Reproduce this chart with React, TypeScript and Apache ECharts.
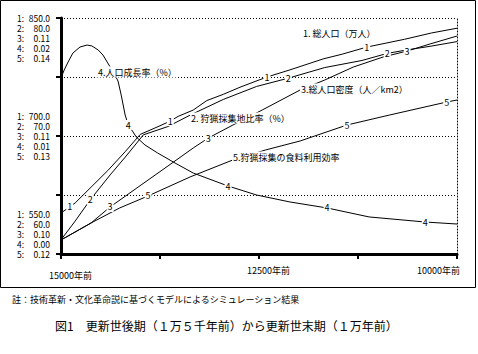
import React, { useEffect, useRef } from 'react';
import * as echarts from 'echarts';

const FONT = '"Noto Sans CJK JP", "Noto Sans", sans-serif';

// x axis (years before present)
const xTickValues = [15000, 12500, 10000];
const xTickLabels = ['15000年前', '12500年前', '10000年前'];

// left scale labels (bottom, middle, top) for series 1..5
const yTickValues = [550, 700, 850];
const yTickLabels = [
  ['550.0', '700.0', '850.0'],
  ['60.0', '70.0', '80.0'],
  ['0.10', '0.11', '0.11'],
  ['0.00', '0.01', '0.02'],
  ['0.12', '0.13', '0.14'],
];
const yRanges: [number, number][] = [
  [550, 850],
  [60, 80],
  [0.1, 0.114],
  [0, 0.02],
  [0.12, 0.14],
];

// 1. 総人口（万人）
const s1Years = [15000, 14890, 14820, 14620, 14410, 14190, 14000, 13750, 13620, 13520, 13330, 13160, 12950, 12740, 12400, 12110, 11690, 11450, 11140, 10660, 10320, 10000];
const s1Values = [602, 610, 615, 635, 656, 680, 702, 713, 719, 725, 733, 745, 753, 762, 775, 784, 798, 804, 813, 823, 831, 837];
const s1LabelIdx = [1, 8, 14, 18];

// 2. 狩猟採集地比率（%）
const s2Years = [15000, 14820, 14630, 14380, 14190, 13960, 13650, 13360, 12950, 12530, 12130, 11670, 11200, 10880, 10630, 10340, 10000];
const s2Values = [61.2, 62.8, 64.6, 66.7, 68.2, 70.1, 70.8, 71.8, 73.1, 74.2, 74.9, 75.8, 76.4, 77.0, 77.3, 77.6, 78.0];
const s2LabelIdx = [2, 10, 13];

// 3. 総人口密度（人／km2）
const s3Years = [15000, 14620, 14380, 13990, 13650, 13330, 13140, 12830, 12460, 11980, 11670, 11310, 10930, 10630, 10340, 10000];
const s3Values = [0.10083, 0.10184, 0.10279, 0.10409, 0.10522, 0.10629, 0.10688, 0.10765, 0.10854, 0.10973, 0.11032, 0.11109, 0.11169, 0.11204, 0.11246, 0.11293];
const s3LabelIdx = [2, 6, 13];

// 4. 人口成長率（%）
const s4Years = [15000, 15000, 14960, 14910, 14850, 14760, 14670, 14610, 14530, 14470, 14410, 14340, 14280, 14240, 14190, 14150, 14090, 14050, 13940, 13780, 13560, 13330, 12890, 12530, 12110, 11640, 11110, 10400, 10000];
const s4Values = [0.01712, 0.01492, 0.01559, 0.01627, 0.01703, 0.01754, 0.01771, 0.01763, 0.01729, 0.01686, 0.01619, 0.01542, 0.01466, 0.01347, 0.01178, 0.01093, 0.01034, 0.00992, 0.00924, 0.00856, 0.00771, 0.00686, 0.00576, 0.005, 0.00441, 0.0039, 0.00314, 0.00271, 0.00254];
const s4LabelIdx = [15, 22, 25, 27];

// 5. 狩猟採集の食料利用効率
const s5Years = [15000, 14620, 14260, 13900, 13370, 12830, 12420, 11980, 11390, 10850, 10130, 10000];
const s5Values = [0.12119, 0.12263, 0.1239, 0.12492, 0.12653, 0.12797, 0.12881, 0.12958, 0.13093, 0.13178, 0.13288, 0.13305];
const s5LabelIdx = [3, 8, 10];

const seriesDefs = [
  { name: '1', years: s1Years, values: s1Values, labels: s1LabelIdx },
  { name: '2', years: s2Years, values: s2Values, labels: s2LabelIdx },
  { name: '3', years: s3Years, values: s3Values, labels: s3LabelIdx },
  { name: '4', years: s4Years, values: s4Values, labels: s4LabelIdx },
  { name: '5', years: s5Years, values: s5Values, labels: s5LabelIdx },
];

const annotations = [
  { text: '1. 総人口（万人）', x: 302, y: 33 },
  { text: '2. 狩猟採集地比率（%）', x: 190, y: 118 },
  { text: '3.総人口密度（人／km2）', x: 300, y: 89 },
  { text: '4.人口成長率（%）', x: 97, y: 72 },
  { text: '5.狩猟採集の食料利用効率', x: 232, y: 157 },
];

const noteText = '註：技術革新・文化革命説に基づくモデルによるシミュレーション結果';
const titleText = '図1　更新世後期（１万５千年前）から更新世末期（１万年前）';

export default function App() {
  const ref = useRef<HTMLDivElement>(null);
  useEffect(() => {
    if (!ref.current) return;
    const chart = echarts.init(ref.current, undefined, { renderer: 'svg' });
    const dotted = { type: [1, 2] as any, color: '#000', width: 1 };

    const yAxes: any[] = yRanges.map((r, i) => {
      if (i === 0) {
        return {
          type: 'value', min: r[0], max: r[1], interval: 75, position: 'left',
          axisLine: { show: true, lineStyle: { color: '#000', width: 3 } },
          axisTick: { show: true, inside: false, length: 5, lineStyle: { color: '#000', width: 2 } },
          splitLine: { show: true, lineStyle: dotted },
          axisLabel: {
            show: true, margin: 11, color: '#000', fontSize: 8.5, fontFamily: FONT, lineHeight: 10,
            showMinLabel: true, showMaxLabel: true,
            formatter: (v: number) => {
              const idx = yTickValues.indexOf(v);
              if (idx < 0) return '';
              const body = yTickLabels.map((col, k) => `{k|${k + 1}:}{v|${col[idx]}}`).join('\n');
              const pad = '{e| }\n{e| }\n{e| }\n{e| }';
              if (idx === 0) return body + '\n' + pad;
              if (idx === 2) return pad + '\n' + body;
              return body;
            },
            rich: {
              k: { width: 9, align: 'left', fontSize: 8.5, lineHeight: 10, fontFamily: FONT, color: '#000' },
              v: { width: 24, align: 'right', fontSize: 8.5, lineHeight: 10, fontFamily: FONT, color: '#000' },
              e: { fontSize: 8.5, lineHeight: 10 },
            },
          },
        };
      }
      if (i === 1) {
        return {
          type: 'value', min: r[0], max: r[1], position: 'right',
          axisLine: { show: true, lineStyle: dotted },
          axisTick: { show: false }, axisLabel: { show: false }, splitLine: { show: false },
        };
      }
      return { type: 'value', min: r[0], max: r[1], show: false, splitLine: { show: false } };
    });

    const option: any = {
      animation: false,
      backgroundColor: '#fff',
      grid: { left: 61, right: 21, top: 18, bottom: 100, containLabel: false, outerBoundsMode: 'none' },
      xAxis: {
        type: 'value', min: 10000, max: 15000, interval: 1250, inverse: true,
        axisLine: { show: true, onZero: false, lineStyle: { color: '#000', width: 3 } },
        axisTick: { show: true, inside: false, length: 5, lineStyle: { color: '#000', width: 2 } },
        splitLine: { show: false },
        axisLabel: {
          show: true, margin: 11, color: '#000', fontSize: 9, fontFamily: FONT,
          showMinLabel: true, showMaxLabel: true,
          formatter: (v: number) => {
            const i = xTickValues.indexOf(v);
            return i < 0 ? '' : `{x${i}|${xTickLabels[i]}}`;
          },
          rich: {
            x0: { width: 62, align: 'right', lineHeight: 21, fontSize: 9, fontFamily: FONT, color: '#000' },
            x1: { width: 62, align: 'right', lineHeight: 11, fontSize: 9, fontFamily: FONT, color: '#000' },
            x2: { width: 80, align: 'left', lineHeight: 11, fontSize: 9, fontFamily: FONT, color: '#000' },
          },
        },
      },
      yAxis: yAxes,
      series: seriesDefs.map((s, i) => ({
        type: 'line',
        name: s.name,
        yAxisIndex: i,
        data: s.years.map((y, k) => [y, s.values[k]]),
        showSymbol: false,
        symbol: 'none',
        smooth: false,
        lineStyle: { color: '#000', width: 1 },
        z: 2,
        markPoint: {
          silent: true,
          symbol: 'rect',
          symbolSize: [7, 10],
          itemStyle: { color: '#fff' },
          label: { show: true, position: 'inside', color: '#000', fontSize: 9, fontFamily: FONT, formatter: s.name },
          data: s.labels.map((k) => ({ coord: [s.years[k], s.values[k]] })),
        },
      })),
      graphic: [
        {
          type: 'rect', z: 50, silent: true,
          shape: { x: 0.5, y: 0.5, width: 475, height: 287 },
          style: { fill: 'none', stroke: '#000', lineWidth: 1 },
        },
        ...annotations.map((a) => ({
          type: 'text', z: 100, silent: true, x: a.x, y: a.y,
          style: {
            text: a.text, fill: '#000', font: `9px ${FONT}`, verticalAlign: 'middle',
            backgroundColor: '#fff', padding: [1, 1, 1, 1],
          },
        })),
        {
          type: 'text', z: 100, silent: true, x: 12, y: 299,
          style: { text: noteText, fill: '#000', font: `9px ${FONT}`, verticalAlign: 'middle' },
        },
        {
          type: 'text', z: 100, silent: true, x: 55, y: 325,
          style: { text: titleText, fill: '#000', font: `12px ${FONT}`, verticalAlign: 'middle' },
        },
      ],
    };
    chart.setOption(option);
    return () => chart.dispose();
  }, []);
  return (
    <div
      ref={ref}
      style={{ position: 'absolute', left: 0, top: 0, width: 478, height: 354, background: '#fff' }}
    />
  );
}
